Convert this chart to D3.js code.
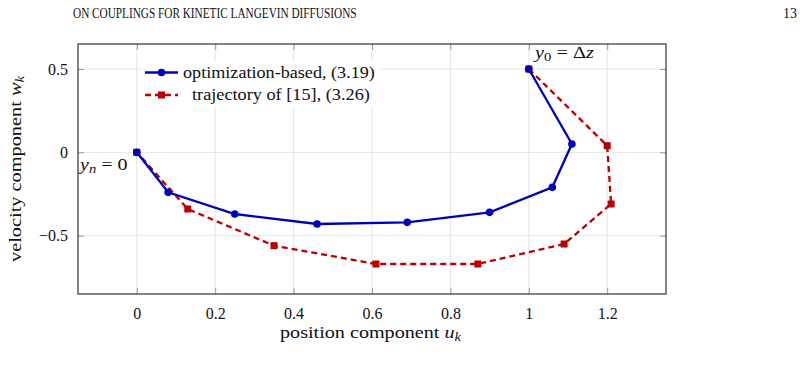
<!DOCTYPE html>
<html><head><meta charset="utf-8">
<script src="https://cdn.jsdelivr.net/npm/d3@7"></script>
<style>
html,body{margin:0;padding:0;background:#fff;}
text{font-family:"Liberation Serif","DejaVu Serif",serif;fill:#111;}
</style></head>
<body>
<svg id="c" width="809" height="375" font-family="'Liberation Serif', serif"></svg>
<script>
const blueU = [1, 1.11, 1.06, 0.9, 0.69, 0.46, 0.25, 0.08, 0];
const blueW = [0.5, 0.05, -0.21, -0.36, -0.42, -0.43, -0.37, -0.24, 0];
const redU = [1, 1.2, 1.21, 1.09, 0.87, 0.61, 0.35, 0.13, 0];
const redW = [0.5, 0.04, -0.31, -0.55, -0.67, -0.67, -0.56, -0.34, 0];
const xTicks = [0, 0.2, 0.4, 0.6, 0.8, 1, 1.2];
const yTicks = [-0.5, 0, 0.5];
const xDomain = [-0.15, 1.35];
const yDomain = [-0.85, 0.65];

const svg = d3.select("#c");
const L = 78, R = 666, T = 44, B = 294;
const x = d3.scaleLinear().domain(xDomain).range([L, R]);
const y = d3.scaleLinear().domain(yDomain).range([B, T]);
const blue = "#0000bb", red = "#bb0000";
const FS = 16.5;

function fit(t, x0, y0, w, rot) {
  const bw = t.node().getBBox().width;
  const s = w / bw;
  t.attr("transform", `translate(${x0},${y0})` + (rot ? ` rotate(${rot})` : "") + ` scale(${s},1)`);
  return t;
}

// header
fit(svg.append("text").attr("font-size", 14)
  .text("ON COUPLINGS FOR KINETIC LANGEVIN DIFFUSIONS"), 73, 18, 284);
svg.append("text").attr("x", 797).attr("y", 18).attr("font-size", 14)
  .attr("text-anchor", "end").text("13");

// grid
const g = svg.append("g");
g.selectAll(".gx").data(xTicks).join("line")
  .attr("x1", d => x(d)).attr("x2", d => x(d)).attr("y1", T).attr("y2", B)
  .attr("stroke", "#e4e4e4").attr("stroke-width", 1);
g.selectAll(".gy").data(yTicks).join("line")
  .attr("y1", d => y(d)).attr("y2", d => y(d)).attr("x1", L).attr("x2", R)
  .attr("stroke", "#e4e4e4").attr("stroke-width", 1);

// axes with inner ticks
const fmt = d => d < 0 ? "\u2212" + Math.abs(d) : String(d);
const axB = d3.axisBottom(x).tickValues(xTicks).tickSizeInner(-6).tickSizeOuter(0).tickPadding(14).tickFormat(fmt);
const axT = d3.axisTop(x).tickValues(xTicks).tickSizeInner(-6).tickSizeOuter(0).tickFormat("");
const axL = d3.axisLeft(y).tickValues(yTicks).tickSizeInner(-6).tickSizeOuter(0).tickPadding(10).tickFormat(fmt);
const axR = d3.axisRight(y).tickValues(yTicks).tickSizeInner(-6).tickSizeOuter(0).tickFormat("");
function styleAx(sel){
  sel.attr("font-family", "'Liberation Serif', serif").attr("font-size", 16);
  sel.select(".domain").remove();
  sel.selectAll(".tick line").attr("stroke", "#999");
  sel.selectAll(".tick text").attr("fill", "#111");
}
svg.append("g").attr("transform", `translate(0,${B})`).call(axB).call(styleAx);
svg.append("g").attr("transform", `translate(0,${T})`).call(axT).call(styleAx);
svg.append("g").attr("transform", `translate(${L},0)`).call(axL).call(styleAx);
svg.append("g").attr("transform", `translate(${R},0)`).call(axR).call(styleAx);

// white backgrounds of legend and top annotation (hide grid lines)
svg.append("rect").attr("x", 141).attr("y", 62).attr("width", 240).attr("height", 45).attr("fill", "#fff");
svg.append("rect").attr("x", 530).attr("y", 45.5).attr("width", 70).attr("height", 18).attr("fill", "#fff");

svg.append("rect").attr("x", L).attr("y", T).attr("width", R - L).attr("height", B - T)
  .attr("fill", "none").attr("stroke", "#333").attr("stroke-width", 1.2);

// lines
const line = d3.line().x(d => x(d[0])).y(d => y(d[1]));
const redPts = redU.map((u, i) => [u, redW[i]]);
const bluePts = blueU.map((u, i) => [u, blueW[i]]);
svg.append("path").datum(redPts).attr("d", line).attr("fill", "none")
  .attr("stroke", red).attr("stroke-width", 2.3).attr("stroke-dasharray", "6,4");
svg.selectAll(".rm").data(redPts).join("rect")
  .attr("x", d => x(d[0]) - 3.5).attr("y", d => y(d[1]) - 3.5)
  .attr("width", 7).attr("height", 7).attr("fill", red);
svg.append("path").datum(bluePts).attr("d", line).attr("fill", "none")
  .attr("stroke", blue).attr("stroke-width", 2.3);
svg.selectAll(".bm").data(bluePts).join("circle")
  .attr("cx", d => x(d[0])).attr("cy", d => y(d[1])).attr("r", 3.8).attr("fill", blue);

// legend
svg.append("line").attr("x1", 145).attr("x2", 178).attr("y1", 72.5).attr("y2", 72.5)
  .attr("stroke", blue).attr("stroke-width", 2.3);
svg.append("circle").attr("cx", 161.5).attr("cy", 72.5).attr("r", 3.8).attr("fill", blue);
fit(svg.append("text").attr("font-size", FS).text("optimization-based, (3.19)"), 183, 78, 192);
svg.append("line").attr("x1", 145).attr("x2", 178).attr("y1", 95).attr("y2", 95)
  .attr("stroke", red).attr("stroke-width", 2.3).attr("stroke-dasharray", "6,4");
svg.append("rect").attr("x", 158).attr("y", 91.5).attr("width", 7).attr("height", 7).attr("fill", red);
fit(svg.append("text").attr("font-size", FS).text("trajectory of [15], (3.26)"), 192, 100, 178);

// annotations
const a1 = svg.append("text").attr("font-size", FS);
a1.append("tspan").attr("font-style", "italic").text("y");
a1.append("tspan").attr("font-style", "italic").attr("font-size", 12).attr("dy", 3).text("n");
a1.append("tspan").attr("dy", -3).text(" = 0");
fit(a1, 80, 170, 50);
const a2 = svg.append("text").attr("font-size", FS);
a2.append("tspan").attr("font-style", "italic").text("y");
a2.append("tspan").attr("font-size", 12).attr("dy", 3).text("0");
a2.append("tspan").attr("dy", -3).text(" = \u0394");
a2.append("tspan").attr("font-style", "italic").text("z");
fit(a2, 535, 58, 62);

// axis labels
const xl = svg.append("text").attr("font-size", FS);
xl.append("tspan").text("position component ");
xl.append("tspan").attr("font-style", "italic").text("u");
xl.append("tspan").attr("font-style", "italic").attr("font-size", 12).attr("dy", 3).text("k");
fit(xl, 280, 338, 182);
const yl = svg.append("text").attr("font-size", FS);
yl.append("tspan").text("velocity component ");
yl.append("tspan").attr("font-style", "italic").text("w");
yl.append("tspan").attr("font-style", "italic").attr("font-size", 12).attr("dy", 3).text("k");
fit(yl, 21, 262, 187, -90);
</script>
</body></html>
